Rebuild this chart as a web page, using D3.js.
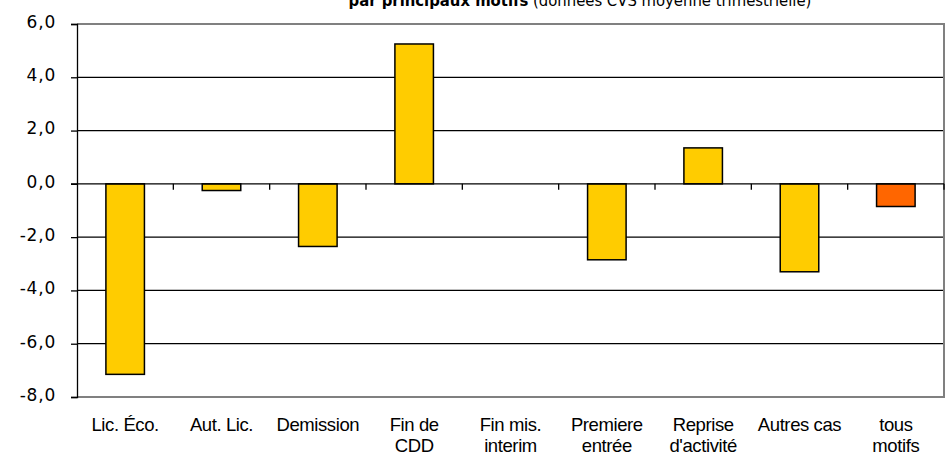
<!DOCTYPE html>
<html>
<head>
<meta charset="utf-8">
<script src="https://cdn.jsdelivr.net/npm/d3@7"></script>
<style>
  body { margin: 0; background: #fff; }
  svg { display: block; }
</style>
</head>
<body>
<svg id="chart" width="947" height="456"></svg>
<script>
// categories, two-line labels
const categories = ["Lic. Éco.", "Aut. Lic.", "Demission", "Fin de CDD", "Fin mis. interim",
  "Premiere entrée", "Reprise d'activité", "Autres cas", "tous motifs"];
const labelLines = [["Lic. Éco."], ["Aut. Lic."], ["Demission"], ["Fin de", "CDD"], ["Fin mis.", "interim"],
  ["Premiere", "entrée"], ["Reprise", "d'activité"], ["Autres cas"], ["tous", "motifs"]];
const values = [-7.15, -0.25, -2.35, 5.25, 0, -2.85, 1.35, -3.3, -0.85];
const barColors = ["#FFCC00", "#FFCC00", "#FFCC00", "#FFCC00", "#FFCC00", "#FFCC00", "#FFCC00", "#FFCC00", "#FF6600"];
const yTicks = [6, 4, 2, 0, -2, -4, -6, -8];

const svg = d3.select("#chart");
const mLeft = 77, mRight = 944, mTop = 24, mBottom = 397;

const x = d3.scaleBand().domain(categories).range([mLeft, mRight]).paddingInner(0.6).paddingOuter(0.3);
const xb = d3.scaleBand().domain(categories).range([mLeft, mRight]);
const y = d3.scaleLinear().domain([-8, 6]).range([mBottom, mTop]);

const fmt = d => d3.format(".1f")(d).replace(".", ",").replace("−", "-");

// title (cut off at top, as in the source)
const title = svg.append("text")
  .attr("x", 580).attr("y", 6)
  .attr("text-anchor", "middle")
  .style("font-family", "DejaVu Sans Condensed, DejaVu Sans")
  .style("font-size", "16.5px");
title.append("tspan").style("font-weight", "bold").text("par principaux motifs");
title.append("tspan").text(" (données CVS moyenne trimestrielle)");

// gridlines
svg.append("g").selectAll("line")
  .data(yTicks.filter(d => d !== 6 && d !== -8 && d !== 0))
  .join("line")
  .attr("x1", mLeft).attr("x2", mRight)
  .attr("y1", d => y(d)).attr("y2", d => y(d))
  .attr("stroke", "#000").attr("stroke-width", 1.3);

// plot border (gray top/right/bottom)
svg.append("path")
  .attr("d", `M${mLeft},${y(6)}H${mRight}V${y(-8)}H${mLeft}`)
  .attr("fill", "none").attr("stroke", "#808080").attr("stroke-width", 2);

// y axis
const yAxis = svg.append("g")
  .attr("transform", `translate(${mLeft},0)`)
  .call(d3.axisLeft(y).tickValues(yTicks).tickSize(6).tickPadding(15).tickFormat(fmt));
yAxis.select(".domain").attr("stroke", "#000").attr("stroke-width", 1.3);
yAxis.selectAll(".tick line").attr("stroke", "#000").attr("stroke-width", 1.3);
yAxis.selectAll("text")
  .attr("dy", "0.2em")
  .style("font-family", "DejaVu Sans")
  .style("font-size", "17px")
  .style("letter-spacing", "0.8px")
  .attr("fill", "#000");

// bars
svg.append("g").selectAll("rect")
  .data(values)
  .join("rect")
  .attr("x", (d, i) => x(categories[i]))
  .attr("width", x.bandwidth())
  .attr("y", d => y(Math.max(0, d)))
  .attr("height", d => Math.abs(y(d) - y(0)))
  .attr("fill", (d, i) => barColors[i])
  .attr("stroke", "#000").attr("stroke-width", 1.5);

// zero line with category ticks
const xAxis = svg.append("g")
  .attr("transform", `translate(0,${y(0)})`);
xAxis.append("line")
  .attr("x1", mLeft - 6).attr("x2", mRight)
  .attr("stroke", "#000").attr("stroke-width", 1.3);
xAxis.selectAll(".ctick")
  .data(categories)
  .join("line")
  .attr("x1", d => xb(d) + xb.bandwidth()).attr("x2", d => xb(d) + xb.bandwidth())
  .attr("y1", 0).attr("y2", 6)
  .attr("stroke", "#000").attr("stroke-width", 1.3);

// category labels
const labels = svg.append("g").selectAll("text")
  .data(categories)
  .join("text")
  .attr("x", d => xb(d) + xb.bandwidth() / 2)
  .attr("y", 431)
  .attr("text-anchor", "middle")
  .style("font-family", "Liberation Sans, Arial")
  .style("font-size", "18.5px")
  .style("letter-spacing", "-0.4px");
labels.selectAll("tspan")
  .data((d, i) => labelLines[i])
  .join("tspan")
  .attr("x", function () { return d3.select(this.parentNode).attr("x"); })
  .attr("dy", (d, j) => j === 0 ? 0 : 21)
  .text(d => d);
</script>
</body>
</html>
